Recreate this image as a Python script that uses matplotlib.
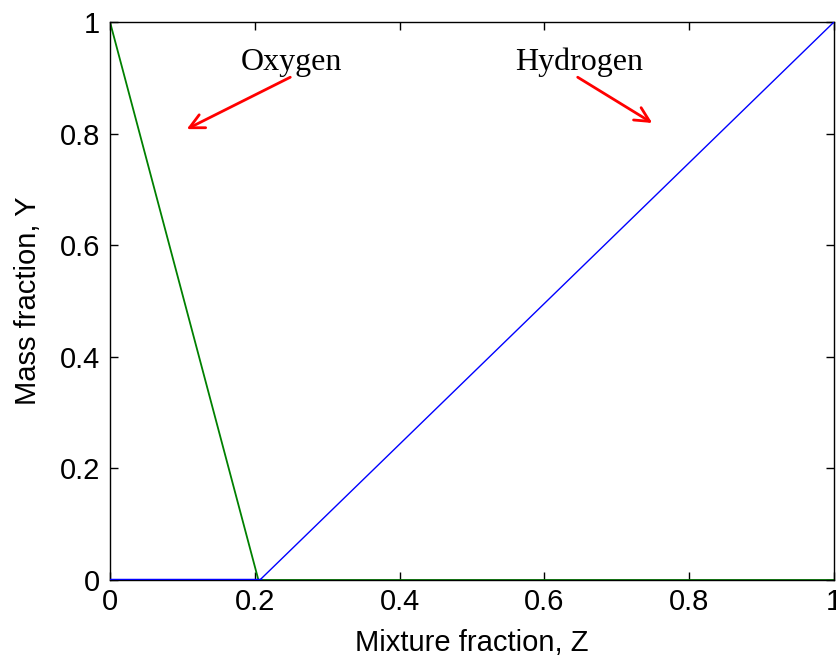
import matplotlib
matplotlib.use("Agg")
import matplotlib.pyplot as plt
import numpy as np

# Data
z_oxygen = [0.0, 0.205, 1.0]
y_oxygen = [1.0, 0.0, 0.0]
z_hydrogen = [0.0, 0.207, 1.0]
y_hydrogen = [0.0, 0.0, 1.0]
xticks = [0, 0.2, 0.4, 0.6, 0.8, 1]
xticklabels = ["0", "0.2", "0.4", "0.6", "0.8", "1"]
yticks = [0, 0.2, 0.4, 0.6, 0.8, 1]
yticklabels = ["0", "0.2", "0.4", "0.6", "0.8", "1"]

fig = plt.figure(figsize=(8.36, 6.6), dpi=100)
ax = fig.add_axes([110/836, 80/660, 724/836, 558/660])

ax.plot(z_hydrogen[:2], y_hydrogen[:2], color="#0000ff", lw=2.5, zorder=3)
ax.plot(z_hydrogen, y_hydrogen, color="#0000ff", lw=1.0, zorder=3)
ax.plot(z_oxygen, y_oxygen, color="#008000", lw=1.3, zorder=2)

ax.set_xlim(0, 1)
ax.set_ylim(0, 1)
ax.set_xticks(xticks)
ax.set_xticklabels(xticklabels)
ax.set_yticks(yticks)
ax.set_yticklabels(yticklabels)
ax.tick_params(direction="in", top=True, right=True, length=6, width=1,
               labelsize=21)
ax.tick_params(axis="y", pad=7)
ax.tick_params(axis="x", pad=6)
for lab in ax.get_xticklabels() + ax.get_yticklabels():
    lab.set_fontfamily("Liberation Sans")
for s in ax.spines.values():
    s.set_linewidth(1.0)

ax.set_xlabel("Mixture fraction, Z", fontsize=21, fontfamily="Liberation Sans", labelpad=9)
ax.set_ylabel("Mass fraction, Y", fontsize=21, fontfamily="Liberation Sans", labelpad=13)

ax.text(0.25, 0.914, "Oxygen", fontsize=23, fontfamily="Liberation Serif",
        ha="center", va="baseline")
ax.text(0.648, 0.914, "Hydrogen", fontsize=23, fontfamily="Liberation Serif",
        ha="center", va="baseline")
ax.annotate("", xy=(0.106, 0.808), xytext=(0.249, 0.901),
            arrowprops=dict(arrowstyle="->", color="red", lw=2, mutation_scale=26,
                            shrinkA=0, shrinkB=0))
ax.annotate("", xy=(0.749, 0.819), xytext=(0.646, 0.901),
            arrowprops=dict(arrowstyle="->", color="red", lw=2, mutation_scale=26,
                            shrinkA=0, shrinkB=0))

fig.savefig("out.png", dpi=100)
